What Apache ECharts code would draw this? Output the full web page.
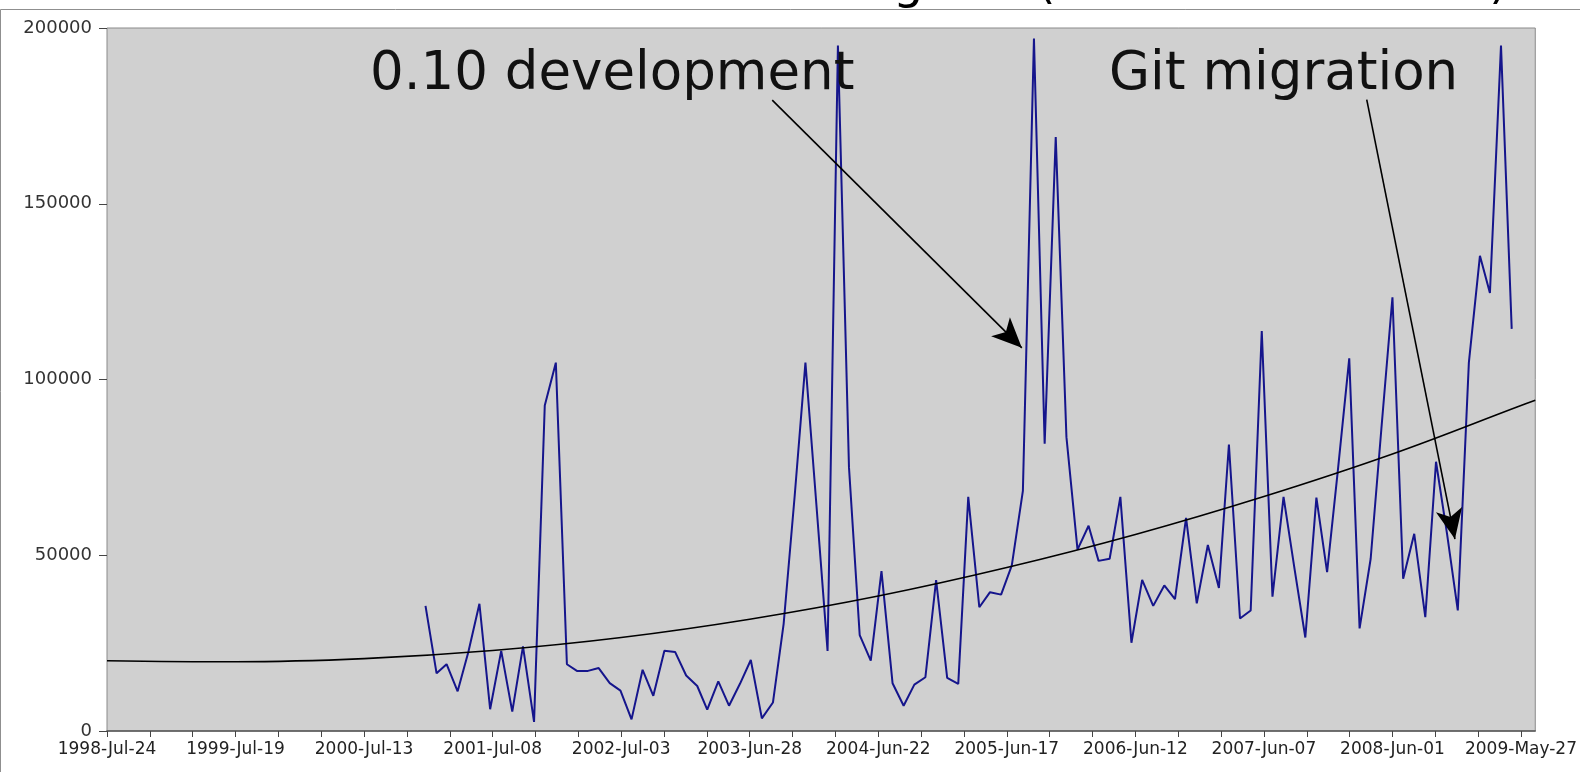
<!DOCTYPE html>
<html><head><meta charset="utf-8">
<script src="https://cdn.jsdelivr.net/npm/echarts@6/dist/echarts.min.js"></script>
<style>html,body{margin:0;padding:0;background:#fff}#c{width:1580px;height:772px}</style>
</head><body><div id="c"></div>
<script>
// ---- data ----
const originDate = [1998, 7, 24];           // axis origin (day 0)
const firstMonth = [2001, 1];               // first monthly value
const monthlyValues = [
  35600, 16400, 19000, 11300, 22500, 36200, 6200, 22800, 5500, 24100, 2600, 92600,
  104800, 19000, 17100, 17100, 17900, 13600, 11500, 3300, 17400, 10000, 22800, 22500,
  15800, 12800, 6100, 14100, 7200, 13500, 20200, 3600, 8100, 30500, 67000, 104800,
  64000, 22800, 195000, 75000, 27300, 20000, 45500, 13600, 7200, 13200, 15300, 42900,
  15100, 13400, 66600, 35200, 39500, 38800, 47100, 68300, 197000, 81700, 169000, 83600,
  51600, 58400, 48400, 49000, 66600, 25100, 43000, 35600, 41400, 37500, 60600, 36300,
  52900, 40700, 81500, 32000, 34300, 113800, 38200, 66600, 46000, 26600, 66400, 45200,
  75000, 106000, 29200, 49000, 86000, 123400, 43300, 56100, 32400, 76600, 56000, 34300,
  104800, 135200, 124600, 195000, 114400
];
const tickLabels = ['1998-Jul-24','1999-Jul-19','2000-Jul-13','2001-Jul-08','2002-Jul-03','2003-Jun-28',
  '2004-Jun-22','2005-Jun-17','2006-Jun-12','2007-Jun-07','2008-Jun-01','2009-May-27'];
const trendDays   = [0, 360, 720, 1080, 1440, 1800, 2160, 2520, 2880, 3240, 3600, 3960, 4000];
const trendValues = [20000, 19700, 20600, 22900, 26600, 31800, 38400, 46500, 55900, 66700, 78800, 92600, 94100];
const yTicks = [0, 50000, 100000, 150000, 200000];
const annotationTexts = ['0.10 development', 'Git migration'];
const arrowFrom = [['2003-08-30', 179500], ['2008-03-21', 179600]];
const arrowTo   = [['2005-07-29', 109000], ['2008-11-23', 54600]];
const titleParts = ['Lines of code changes', '(added + removed)'];

// ---- helpers ----
const DAY = 86400000;
const origin = Date.UTC(originDate[0], originDate[1] - 1, originDate[2]);
function dayOf(y, m, d) { return (Date.UTC(y, m - 1, d) - origin) / DAY; }
function dayOfStr(s) { const p = s.split('-').map(Number); return dayOf(p[0], p[1], p[2]); }

const lineData = monthlyValues.map((v, i) => {
  const mm = firstMonth[1] - 1 + i;
  const y = firstMonth[0] + Math.floor(mm / 12);
  const m = (mm % 12) + 1;
  return [dayOf(y, m, 1), v];
});
const trendData = trendDays.map((d, i) => [d, trendValues[i]]);

const FONT = '"DejaVu Sans", Verdana, sans-serif';
const chart = echarts.init(document.getElementById('c'), null, {renderer: 'canvas'});
chart.setOption({
  animation: false,
  backgroundColor: '#ffffff',
  grid: {left: 107, right: 43, top: 28, bottom: 41, show: true,
         backgroundColor: '#d0d0d0', borderColor: '#8a8a8a', borderWidth: 1},
  xAxis: {
    type: 'value', min: 0, max: 4000, interval: 120,
    axisLine: {show: true, lineStyle: {color: '#555', width: 1.5}},
    axisTick: {show: true, length: 6, lineStyle: {color: '#444', width: 1}},
    splitLine: {show: false},
    axisLabel: {
      show: true, margin: 10, color: '#222', fontFamily: FONT, fontSize: 17,
      showMaxLabel: false,
      formatter: function (v) {
        if (v % 360 === 0) { const k = v / 360; return tickLabels[k] || ''; }
        return '';
      }
    }
  },
  yAxis: {
    type: 'value', min: yTicks[0], max: yTicks[yTicks.length - 1], interval: yTicks[1] - yTicks[0],
    axisLine: {show: false},
    axisTick: {show: true, length: 8, lineStyle: {color: '#444'}},
    splitLine: {show: false},
    axisLabel: {margin: 15, color: '#333', fontFamily: FONT, fontSize: 18,
                formatter: function (v) { return String(v); }}
  },
  series: [
    {
      type: 'line', data: lineData, showSymbol: false, symbol: 'none',
      lineStyle: {color: '#15158c', width: 2}, z: 3
    },
    {
      type: 'line', data: trendData, showSymbol: false, symbol: 'none', smooth: 0.4,
      lineStyle: {color: '#000000', width: 1.6}, z: 4,
      markLine: {
        silent: true, animation: false,
        symbol: ['none', 'arrow'], symbolSize: [20, 30],
        label: {show: false},
        lineStyle: {color: '#000', width: 1.6, type: 'solid'},
        data: arrowFrom.map((f, i) => [
          {coord: [dayOfStr(f[0]), f[1]]},
          {coord: [dayOfStr(arrowTo[i][0]), arrowTo[i][1]]}
        ])
      }
    }
  ],
  graphic: [
    {type: 'rect', shape: {x: 0.5, y: 9.5, width: 1620, height: 800}, silent: true, z: -1,
     style: {fill: 'none', stroke: '#8f8f8f', lineWidth: 1}},
    {type: 'text', x: 978, y: -14.5, silent: true,
     style: {text: titleParts[0], font: '48px ' + FONT, fill: '#000', align: 'right', verticalAlign: 'middle'}},
    {type: 'text', x: 1508, y: -14.5, silent: true,
     style: {text: titleParts[1], font: '48px ' + FONT, fill: '#000', align: 'right', verticalAlign: 'middle'}},
    {type: 'text', x: 370, y: 75, silent: true, z: 10,
     style: {text: annotationTexts[0], font: '53px ' + FONT, fill: '#111', align: 'left', verticalAlign: 'middle'}},
    {type: 'text', x: 1109, y: 75, silent: true, z: 10,
     style: {text: annotationTexts[1], font: '53px ' + FONT, fill: '#111', align: 'left', verticalAlign: 'middle'}}
  ]
});
</script></body></html>
